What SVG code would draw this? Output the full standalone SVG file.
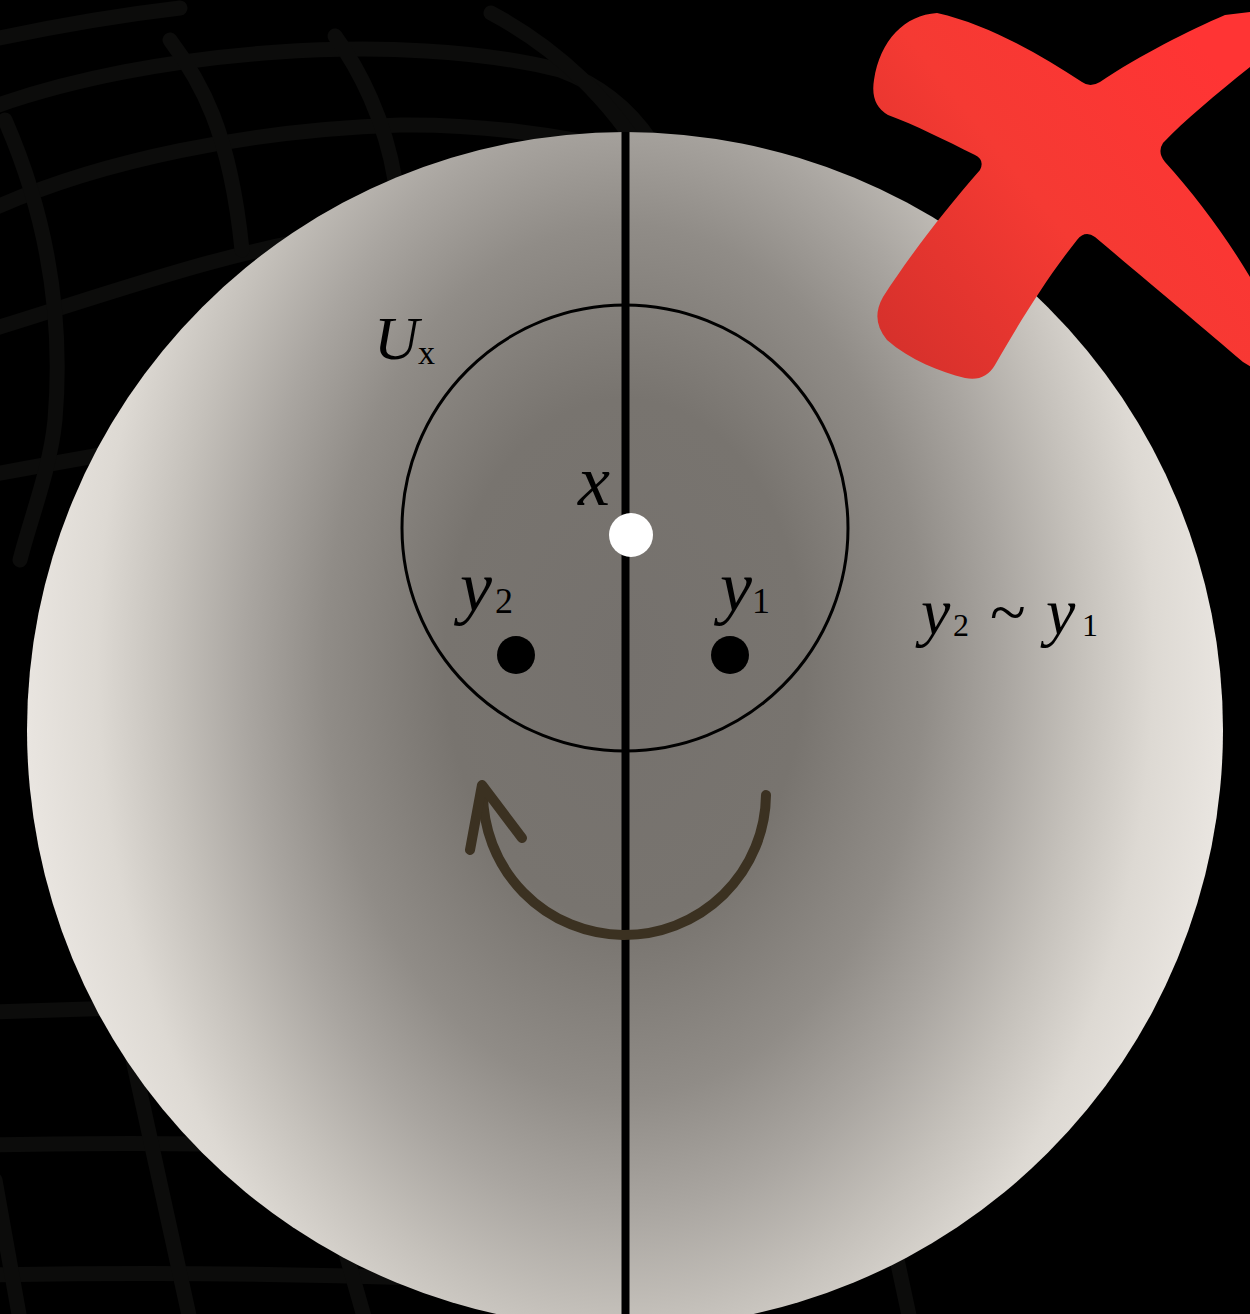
<svg xmlns="http://www.w3.org/2000/svg" width="1250" height="1314" viewBox="0 0 1250 1314">
  <defs>
    <radialGradient id="sphereGrad" gradientUnits="userSpaceOnUse" cx="625" cy="660" r="600" gradientTransform="translate(625 660) scale(1 1.45) translate(-625 -660)">
      <stop offset="0" stop-color="#75716d"/>
      <stop offset="0.3" stop-color="#78746f"/>
      <stop offset="0.5" stop-color="#908c87"/>
      <stop offset="0.63" stop-color="#a9a5a0"/>
      <stop offset="0.76" stop-color="#c5c1bb"/>
      <stop offset="0.88" stop-color="#ddd9d3"/>
      <stop offset="1" stop-color="#e9e5e0"/>
    </radialGradient>
    <linearGradient id="xGrad" gradientUnits="userSpaceOnUse" x1="880" y1="360" x2="1230" y2="80">
      <stop offset="0" stop-color="#d4302b"/>
      <stop offset="0.5" stop-color="#f53a33"/>
      <stop offset="1" stop-color="#ff3434"/>
    </linearGradient>
    <style>
      .grid { fill: none; stroke: #0c0c0b; stroke-width: 15; stroke-linecap: round; }
      .math { font-family: "Liberation Serif", "DejaVu Serif", serif; fill: #000; }
      .it { font-style: italic; }
      .arrow { fill: none; stroke: #3b3121; stroke-width: 10; stroke-linecap: round; stroke-linejoin: round; }
    </style>
  </defs>

  <rect width="1250" height="1314" fill="#000"/>

  <g id="background-grid">
    <path class="grid" d="M -10,108 C 150,50 400,30 560,70 C 600,85 630,110 650,140"/>
    <path class="grid" d="M -10,40 C 60,25 120,15 180,8"/>
    <path class="grid" d="M -10,210 C 100,160 250,130 400,125 C 480,124 560,135 620,150"/>
    <path class="grid" d="M -10,330 C 120,290 230,250 340,235"/>
    <path class="grid" d="M -10,475 C 60,462 100,455 130,450"/>
    <path class="grid" d="M -10,1012 L 120,1008"/>
    <path class="grid" d="M -10,1145 C 100,1143 200,1143 260,1146"/>
    <path class="grid" d="M -10,1275 C 150,1272 300,1274 420,1278"/>
    <path class="grid" d="M 5,120 C 40,200 65,300 55,420 C 50,470 30,520 20,560"/>
    <path class="grid" d="M 170,40 C 200,80 230,130 242,250"/>
    <path class="grid" d="M 335,36 C 360,70 385,120 395,180"/>
    <path class="grid" d="M 491,13 C 560,50 610,100 650,165"/>
    <path class="grid" d="M 133,1060 C 150,1140 170,1230 190,1320"/>
    <path class="grid" d="M -5,1180 L 20,1320"/>
    <path class="grid" d="M 345,1250 L 365,1320"/>
    <path class="grid" d="M 895,1250 L 910,1320"/>
  </g>

  <g id="sphere">
    <circle cx="625" cy="730" r="598" fill="url(#sphereGrad)"/>
  </g>

  <g id="divider">
    <line x1="625.5" y1="132" x2="625.5" y2="1314" stroke="#000" stroke-width="8"/>
  </g>

  <g id="neighbourhood">
    <circle cx="625" cy="528" r="223" fill="none" stroke="#000" stroke-width="3"/>
    <text class="math it" x="374" y="359" font-size="62">U</text>
    <text class="math" x="418" y="364" font-size="34">x</text>
  </g>

  <g id="point-x">
    <circle cx="631" cy="535" r="22" fill="#fff"/>
    <text class="math it" x="578" y="505" font-size="72">x</text>
  </g>

  <g id="point-y2">
    <circle cx="516" cy="655" r="19" fill="#000"/>
    <text class="math" x="460" y="611" font-size="72"><tspan class="it">y</tspan><tspan x="495" y="613" font-size="36">2</tspan></text>
  </g>

  <g id="point-y1">
    <circle cx="730" cy="655" r="19" fill="#000"/>
    <text class="math" x="720" y="611" font-size="72"><tspan class="it">y</tspan><tspan x="752" y="613" font-size="36">1</tspan></text>
  </g>

  <g id="relation-label">
    <text class="math" x="921" y="634" font-size="66"><tspan class="it">y</tspan><tspan x="953" y="636" font-size="32">2</tspan><tspan x="990" y="634">~</tspan><tspan x="1046" y="634" class="it">y</tspan><tspan x="1082" y="636" font-size="32">1</tspan></text>
  </g>

  <g id="connectors">
    <path class="arrow" d="M 766,795 A 141,141 0 0 1 483,792"/>
    <path class="arrow" d="M 470,850 L 482,785 L 522,838"/>
  </g>

  <g id="red-cross">
    <path fill="url(#xGrad)" d="M 937,13 C 990,25 1040,55 1082,82 Q 1090,88 1100,82 C 1140,55 1190,30 1225,15 L 1265,10 L 1265,65 L 1250,67 C 1215,95 1185,120 1163,143 Q 1157,152 1165,162 C 1195,195 1225,235 1250,277 L 1265,300 L 1265,375 L 1243,362 C 1200,325 1140,275 1095,237 Q 1085,230 1077,240 C 1045,280 1015,330 995,365 Q 985,382 965,378 C 940,372 910,360 887,340 Q 870,320 883,297 C 910,255 945,210 980,170 Q 985,160 975,155 C 945,140 915,125 888,115 Q 870,105 874,80 C 880,40 905,15 937,13 Z"/>
  </g>
</svg>
